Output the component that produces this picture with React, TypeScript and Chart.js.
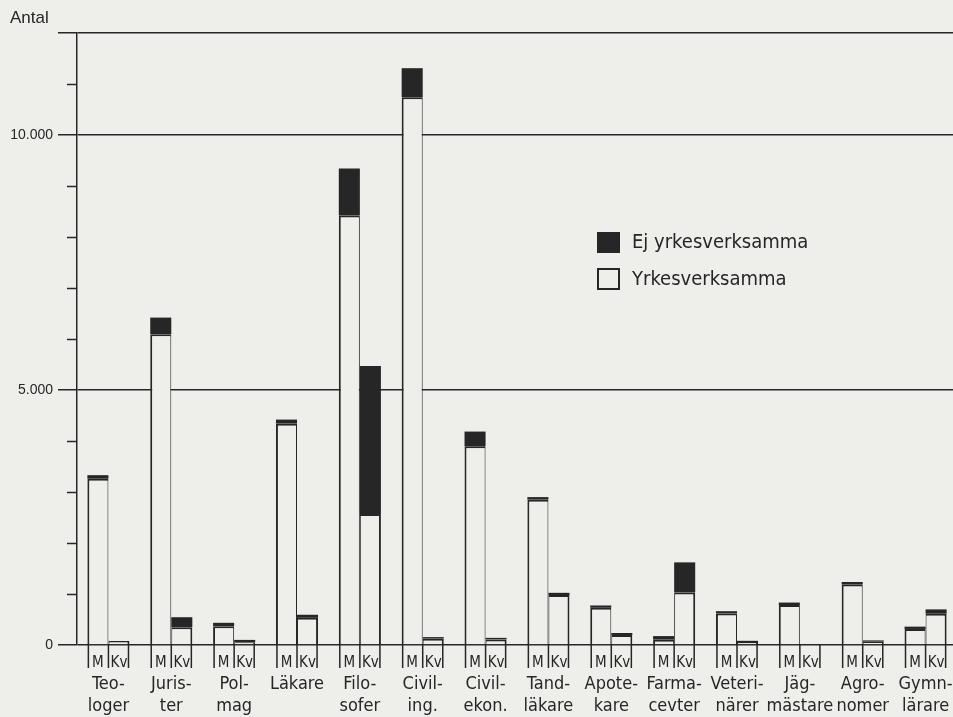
import React, { useEffect, useRef } from "react";
import { Chart, registerables } from "chart.js";

Chart.register(...registerables);

// ---------- data ----------
const categories: string[][] = [
  ["Teo-", "loger"],
  ["Juris-", "ter"],
  ["Pol-", "mag"],
  ["Läkare"],
  ["Filo-", "sofer"],
  ["Civil-", "ing."],
  ["Civil-", "ekon."],
  ["Tand-", "läkare"],
  ["Apote-", "kare"],
  ["Farma-", "cevter"],
  ["Veteri-", "närer"],
  ["Jäg-", "mästare"],
  ["Agro-", "nomer"],
  ["Gymn-", "lärare"],
];

// Män (M)
const mYrkes = [3260, 6095, 370, 4340, 8420, 10740, 3895, 2850, 730, 105, 618, 782, 1185, 315];
const mEj = [70, 325, 65, 80, 925, 570, 290, 50, 45, 70, 45, 50, 50, 45];
// Kvinnor (Kv)
const kvYrkes = [80, 350, 55, 533, 2570, 125, 110, 978, 195, 1030, 57, 0, 65, 613];
const kvEj = [0, 195, 45, 60, 2900, 30, 30, 45, 40, 590, 25, 0, 25, 85];

const yTickLabels: Record<number, string> = { 0: "0", 5000: "5.000", 10000: "10.000" };
const majorLines = [0, 5000, 10000, 12000];
const yMax = 12000;
const yStep = 1000;
const legendLabels = ["Ej yrkesverksamma", "Yrkesverksamma"];
const sexLabels = ["M", "Kv"];
const yTitle = "Antal";

// ---------- style ----------
const INK = "#262626";
const BG = "#eeeeea";
const NARROW = "'Liberation Sans Narrow', 'Arial Narrow', 'DejaVu Sans Condensed', sans-serif";
const SANS = "'Liberation Sans', Arial, sans-serif";

const decorPlugin = {
  id: "decor",
  afterDraw(chart: any) {
    const { ctx, chartArea, scales } = chart;
    const y = scales.y;
    ctx.save();
    ctx.strokeStyle = INK;
    ctx.fillStyle = INK;
    ctx.lineWidth = 1.5;

    // minor ticks on y axis
    for (let v = yStep; v < yMax; v += yStep) {
      if (majorLines.includes(v)) continue;
      const py = Math.round(y.getPixelForValue(v)) + 0.5;
      ctx.beginPath();
      ctx.moveTo(chartArea.left - 10, py);
      ctx.lineTo(chartArea.left, py);
      ctx.stroke();
    }

    // separators and M / Kv labels below the axis
    const mMeta = chart.getDatasetMeta(0);
    const kMeta = chart.getDatasetMeta(2);
    ctx.font = `15px ${NARROW}`;
    ctx.textAlign = "center";
    ctx.textBaseline = "middle";
    mMeta.data.forEach((bar: any, i: number) => {
      const mb = bar.getProps(["x", "width"], true);
      const kb = kMeta.data[i].getProps(["x", "width"], true);
      const xs = [mb.x - mb.width / 2 + 1, mb.x + mb.width / 2, kb.x + kb.width / 2 - 1];
      xs.forEach((x) => {
        ctx.beginPath();
        ctx.moveTo(x, chartArea.bottom);
        ctx.lineTo(x, chartArea.bottom + 23);
        ctx.stroke();
      });
      ctx.fillText(sexLabels[0], mb.x, chartArea.bottom + 18);
      ctx.fillText(sexLabels[1], kb.x, chartArea.bottom + 18);
    });

    // axis title
    ctx.textAlign = "left";
    ctx.font = `17px ${SANS}`;
    ctx.fillText(yTitle, 10, 18);

    // legend
    const lx = 597;
    ctx.fillRect(lx, 232, 23, 21);
    ctx.lineWidth = 2;
    ctx.strokeRect(lx + 1, 269, 21, 20);
    ctx.font = `20px ${NARROW}`;
    ctx.fillText(legendLabels[0], 632, 243);
    ctx.fillText(legendLabels[1], 632, 280);

    ctx.restore();
  },
};

export default function App() {
  const canvasRef = useRef<HTMLCanvasElement | null>(null);

  useEffect(() => {
    if (!canvasRef.current) return;
    const bw = (left: number, right: number) => ({ left, right, top: 2, bottom: 0 });
    const chart = new Chart(canvasRef.current, {
      type: "bar",
      data: {
        labels: categories,
        datasets: [
          { label: "M yrkesverksamma", data: mYrkes, stack: "M", backgroundColor: BG, borderColor: INK, borderWidth: bw(2, 1), borderSkipped: "start" },
          { label: "M ej yrkesverksamma", data: mEj, stack: "M", backgroundColor: INK, borderColor: INK, borderWidth: 0 },
          { label: "Kv yrkesverksamma", data: kvYrkes, stack: "Kv", backgroundColor: BG, borderColor: INK, borderWidth: bw(1, 2), borderSkipped: "start" },
          { label: "Kv ej yrkesverksamma", data: kvEj, stack: "Kv", backgroundColor: INK, borderColor: INK, borderWidth: 0 },
        ] as any,
      },
      options: {
        animation: false,
        responsive: false,
        events: [],
        layout: { padding: { top: 33, left: 0, right: 0, bottom: 0 } },
        datasets: { bar: { categoryPercentage: 0.67, barPercentage: 1.0 } } as any,
        plugins: { legend: { display: false }, tooltip: { enabled: false } },
        scales: {
          x: {
            stacked: true,
            offset: true,
            grid: { display: false, drawTicks: false },
            border: { display: false },
            ticks: { color: INK, font: { family: NARROW, size: 18 }, padding: 29, maxRotation: 0, autoSkip: false },
            afterFit: (s: any) => {
              s.height = 72;
              s.paddingLeft = 0;
              s.paddingRight = 0;
            },
          },
          y: {
            stacked: true,
            min: 0,
            max: yMax,
            ticks: {
              stepSize: yStep,
              autoSkip: false,
              color: INK,
              font: { family: SANS, size: 14 },
              padding: 5,
              callback: (v: any) => yTickLabels[Number(v)] ?? "",
            },
            grid: {
              color: (c: any) => (majorLines.includes(c.tick?.value) ? INK : "transparent"),
              tickColor: (c: any) => (majorLines.includes(c.tick?.value) ? INK : "transparent"),
              tickLength: 19,
              lineWidth: 1.5,
              drawTicks: true,
            },
            border: { display: true, color: INK, width: 1.5 },
            afterFit: (s: any) => { s.width = 77; },
          },
        },
      } as any,
      plugins: [decorPlugin],
    });
    return () => chart.destroy();
  }, []);

  return (
    <div style={{ position: "fixed", left: 0, top: 0, width: 953, height: 717, overflow: "hidden", background: BG }}>
      <canvas ref={canvasRef} width={957} height={717} style={{ display: "block", width: 957, height: 717 }} />
    </div>
  );
}
